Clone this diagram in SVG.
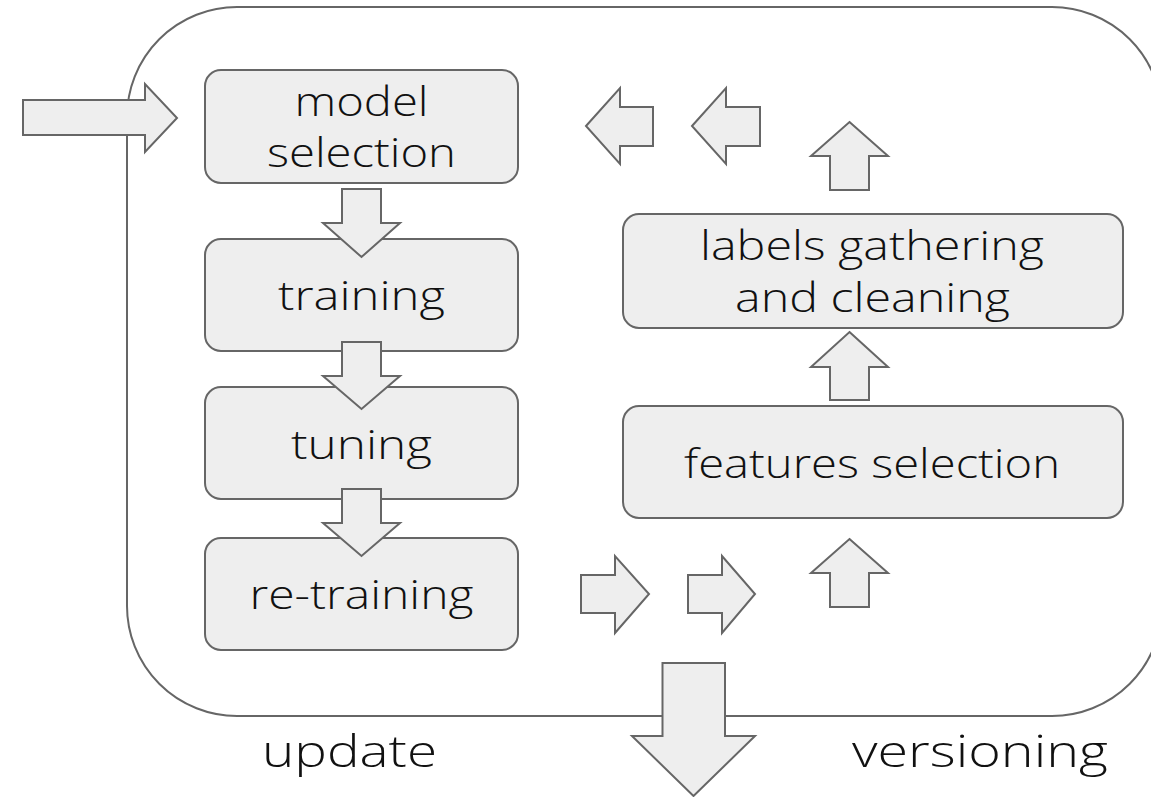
<svg xmlns="http://www.w3.org/2000/svg" width="1151" height="797" viewBox="0 0 1151 797">
  <style>
    .frame { fill: none; stroke: #666; stroke-width: 2; }
    .box { fill: #eeeeee; stroke: #666; stroke-width: 2; }
    .arrow { fill: #eeeeee; stroke: #666; stroke-width: 2; stroke-linejoin: miter; }
    .lbl { font-family: "Open Sans", "Noto Sans", sans-serif; font-weight: 300; font-size: 40px; fill: #111; text-anchor: middle; }
    .cap { font-family: "Open Sans", "Noto Sans", sans-serif; font-weight: 300; font-size: 45px; fill: #111; text-anchor: middle; }
  </style>
  <rect width="1151" height="797" fill="#ffffff"/>

  <!-- outer frame -->
  <rect id="frame" class="frame" x="127" y="7" width="1035" height="709" rx="110" ry="110"/>

  <!-- pipeline steps -->
  <g id="model-selection">
    <rect class="box" x="205" y="70" width="313" height="113" rx="16"/>
    <text class="lbl" x="361.5" y="116" textLength="134" lengthAdjust="spacingAndGlyphs">model</text>
    <text class="lbl" x="361.5" y="167" textLength="189" lengthAdjust="spacingAndGlyphs">selection</text>
  </g>
  <g id="training">
    <rect class="box" x="205" y="239" width="313" height="112" rx="16"/>
    <text class="lbl" x="361.5" y="310" textLength="167" lengthAdjust="spacingAndGlyphs">training</text>
  </g>
  <g id="tuning">
    <rect class="box" x="205" y="387" width="313" height="112" rx="16"/>
    <text class="lbl" x="361.5" y="459" textLength="141" lengthAdjust="spacingAndGlyphs">tuning</text>
  </g>
  <g id="re-training">
    <rect class="box" x="205" y="538" width="313" height="112" rx="16"/>
    <text class="lbl" x="361.5" y="609" textLength="224" lengthAdjust="spacingAndGlyphs">re-training</text>
  </g>
  <g id="labels-gathering">
    <rect class="box" x="623" y="214" width="500" height="114" rx="16"/>
    <text class="lbl" x="872" y="260" textLength="344" lengthAdjust="spacingAndGlyphs">labels gathering</text>
    <text class="lbl" x="872.5" y="312" textLength="275" lengthAdjust="spacingAndGlyphs">and cleaning</text>
  </g>
  <g id="features-selection">
    <rect class="box" x="623" y="406" width="500" height="112" rx="16"/>
    <text class="lbl" x="872" y="478" textLength="376" lengthAdjust="spacingAndGlyphs">features selection</text>
  </g>

  <!-- block arrows -->
  <g id="connectors">
    <path class="arrow" d="M23,100 H145 V84 L177,118 L145,152 V135 H23 Z"/>
    <path class="arrow" d="M342,189 H381 V223 H400 L361.5,257 L323,223 H342 Z"/>
    <path class="arrow" d="M342,342 H381 V376 H400 L361.5,409 L323,376 H342 Z"/>
    <path class="arrow" d="M342,489 H381 V523 H400 L361.5,556 L323,523 H342 Z"/>
    <path class="arrow" d="M586,126 L620,88 V107 H653 V146 H620 V164 Z"/>
    <path class="arrow" d="M692,126 L726,88 V107 H760 V146 H726 V164 Z"/>
    <path class="arrow" d="M849.5,122 L888,156 H869 V190 H830 V156 H811 Z"/>
    <path class="arrow" d="M849.5,332 L888,367 H869 V400 H830 V367 H811 Z"/>
    <path class="arrow" d="M849.5,539 L888,573 H869 V607 H830 V573 H811 Z"/>
    <path class="arrow" d="M581,575 H615 V556 L649,594 L615,633 V613 H581 Z"/>
    <path class="arrow" d="M688,575 H722 V556 L755,594 L722,633 V613 H688 Z"/>
    <path class="arrow" d="M662.5,663 H725 V736 H755 L693.5,796 L632,736 H662.5 Z"/>
  </g>

  <!-- captions -->
  <text class="cap" x="349.5" y="767" textLength="175" lengthAdjust="spacingAndGlyphs">update</text>
  <text class="cap" x="980" y="767" textLength="256" lengthAdjust="spacingAndGlyphs">versioning</text>
</svg>
